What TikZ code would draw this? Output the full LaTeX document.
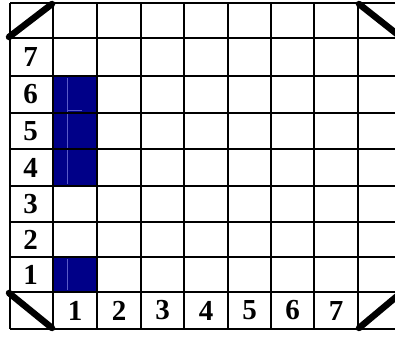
\documentclass[tikz,border=0pt]{standalone}
\usepackage{fontspec}
\setmainfont{Liberation Serif}
\usepackage{tikz}
\usetikzlibrary{positioning}
\definecolor{cellblue}{RGB}{0,0,136}
\definecolor{seamblue}{RGB}{90,90,200}

\begin{document}
\begin{tikzpicture}[x=1pt,y=-1pt,
    gridline/.style={black,line width=2.4pt},
    blockcell/.style={fill=cellblue,draw=none},
    cornerbar/.style={black,line width=6.5pt,line cap=round},
    numlabel/.style={font=\fontsize{29}{29}\selectfont\bfseries,inner sep=0pt}]
    \useasboundingbox (0,0) rectangle (395,337);
    \clip (0,0) rectangle (395,337);
    % filled cells
    \fill[blockcell] (53,76) rectangle (97,186);
    \fill[blockcell] (53,257) rectangle (97,292);
    \draw[seamblue,line width=0.6pt] (67,78) -- (67,184);
    \draw[seamblue,line width=0.6pt] (67,110) -- (82,110);
    \draw[seamblue,line width=0.6pt] (67,259) -- (67,290);
    % grid
    \foreach \x in {10,53,97,141,184,228,271,314,358,402}
        \draw[gridline] (\x,3) -- (\x,329);
    \foreach \y in {3,38,76,113,149,186,222,257,292,329}
        \draw[gridline] (10,\y) -- (402,\y);
    % row numbers
    \foreach \n/\y in {7/57,6/94.5,5/131,4/167.5,3/204,2/239.5,1/274.5}
        \node[numlabel] (row\n) at (30.5,\y) {\n};
    % column numbers
    \foreach \n/\x in {1/75,2/119,3/162.5,4/206,5/249.5,6/292.5,7/336}
        \node[numlabel] (col\n) at (\x,310.5) {\n};
    % corner bars
    \coordinate (tlA) at (9,37);   \coordinate (tlB) at (52,4);
    \coordinate (trA) at (359,4);  \coordinate (trB) at (402,38);
    \coordinate (blA) at (9,293);  \coordinate (blB) at (52,328);
    \coordinate (brA) at (359,328);\coordinate (brB) at (402,292);
    \draw[cornerbar] (tlA) -- (tlB);
    \draw[cornerbar] (trA) -- (trB);
    \draw[cornerbar] (blA) -- (blB);
    \draw[cornerbar] (brA) -- (brB);
\end{tikzpicture}
\end{document}
